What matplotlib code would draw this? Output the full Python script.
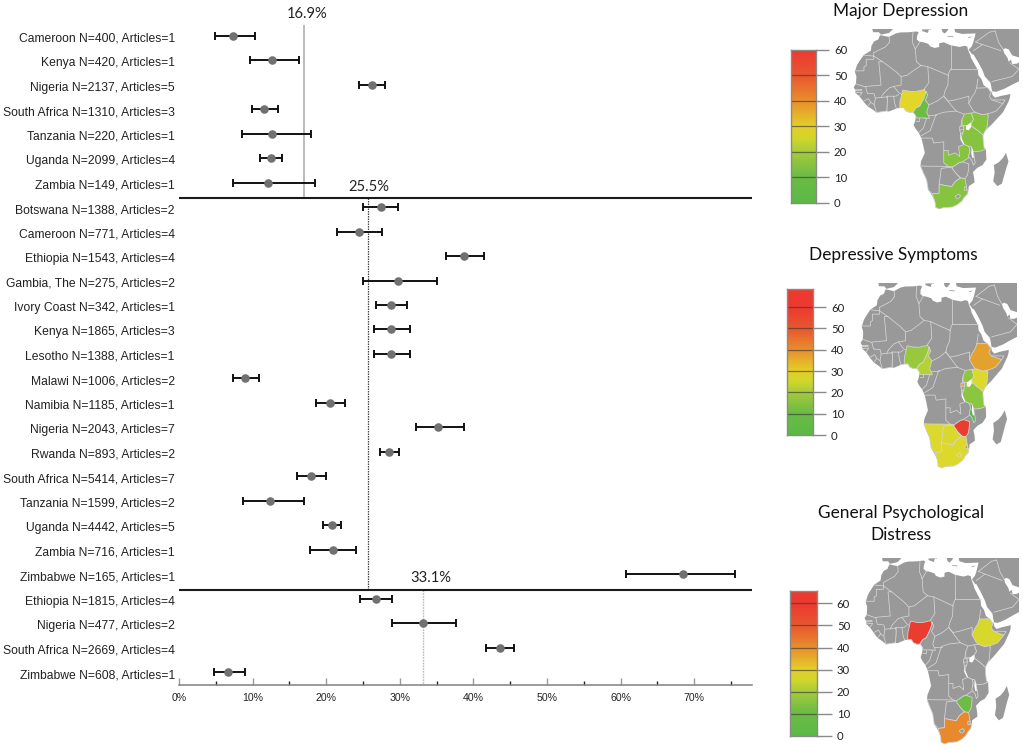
import matplotlib
matplotlib.use("Agg")
import matplotlib.pyplot as plt
from matplotlib.colors import LinearSegmentedColormap
from matplotlib.transforms import ScaledTranslation
import numpy as np

WIDTH, HEIGHT = 1023, 749
LABEL_FONT = "Liberation Sans"
TITLE_FONT = "Lato"

labels = [
    "Cameroon N=400, Articles=1", "Kenya N=420, Articles=1", "Nigeria N=2137, Articles=5",
    "South Africa N=1310, Articles=3", "Tanzania N=220, Articles=1", "Uganda N=2099, Articles=4",
    "Zambia N=149, Articles=1", "Botswana N=1388, Articles=2", "Cameroon N=771, Articles=4",
    "Ethiopia N=1543, Articles=4", "Gambia, The N=275, Articles=2", "Ivory Coast N=342, Articles=1",
    "Kenya N=1865, Articles=3", "Lesotho N=1388, Articles=1", "Malawi N=1006, Articles=2",
    "Namibia N=1185, Articles=1", "Nigeria N=2043, Articles=7", "Rwanda N=893, Articles=2",
    "South Africa N=5414, Articles=7", "Tanzania N=1599, Articles=2", "Uganda N=4442, Articles=5",
    "Zambia N=716, Articles=1", "Zimbabwe N=165, Articles=1", "Ethiopia N=1815, Articles=4",
    "Nigeria N=477, Articles=2", "South Africa N=2669, Articles=4", "Zimbabwe N=608, Articles=1",
]
means = [7.3, 12.6, 26.2, 11.6, 12.7, 12.5, 12.1, 27.4, 24.4, 38.7, 29.8, 28.8, 28.8, 28.8,
         9.0, 20.5, 35.2, 28.5, 17.9, 12.4, 20.8, 20.9, 68.5, 26.7, 33.2, 43.6, 6.6]
lows = [4.9, 9.6, 24.5, 9.9, 8.6, 11.0, 7.3, 25.0, 21.4, 36.3, 25.0, 26.8, 26.5, 26.5,
        7.3, 18.6, 32.2, 27.3, 16.0, 8.7, 19.6, 17.8, 60.7, 24.6, 28.9, 41.7, 4.8]
highs = [10.3, 16.3, 28.0, 13.5, 17.9, 14.0, 18.5, 29.8, 27.6, 41.4, 35.1, 31.0, 31.4, 31.4,
         10.9, 22.6, 38.7, 29.9, 20.0, 17.0, 22.0, 24.0, 75.5, 28.9, 37.6, 45.5, 8.9]

# land outlines, lon/lat
africa = [(-5.9, 35.8), (-2, 35.1), (1, 36.5), (3, 36.9), (7, 37), (10, 37.3), (11, 37), (10.3, 35.5),
          (10.2, 34), (11.2, 33.2), (13, 32.9), (15.2, 32.3), (16, 31.3), (18, 30.6), (20, 31), (20, 32.5),
          (22, 32.9), (25, 31.7), (29, 31), (31, 31.5), (32.3, 31.2), (32.6, 29.9), (33.5, 28), (34, 26.5),
          (35.5, 24), (37, 21.5), (37.2, 19.5), (38.5, 18), (39.5, 15.5), (41, 14.5), (43.2, 12.5),
          (43.3, 11.5), (44.5, 10.4), (47, 11.1), (51.2, 11.9), (51, 10.4), (50.5, 9), (48, 4.5), (46, 2.5),
          (43, -0.5), (41.5, -1.8), (40, -3.2), (39.2, -5), (39.3, -7), (39.7, -10), (40.5, -10.5),
          (40.7, -14.7), (39, -17), (36.8, -18), (34.8, -19.8), (35.3, -22), (35.5, -24), (33, -25.5),
          (32.8, -27), (32.4, -28.7), (31, -30), (30, -31.5), (28, -33), (25.7, -34), (22, -34.2), (20, -34.8),
          (18.4, -34.1), (18.2, -32), (17, -29.5), (15.2, -27), (14.5, -23), (13, -20), (11.8, -17.5),
          (12, -15.5), (13.7, -12), (13, -9), (12.2, -6), (11, -3.8), (9.5, -2), (8.8, -0.7), (9.5, 1),
          (9.8, 3), (8.9, 4.5), (7, 4.4), (5.4, 5), (4.4, 6.3), (1.5, 6.1), (-2, 4.8), (-4.5, 5.2), (-7.5, 4.4),
          (-9.2, 5.6), (-11.4, 6.9), (-13.2, 8.8), (-13.7, 9.5), (-15, 11), (-16.7, 12.3), (-16.8, 13.5),
          (-17.5, 14.7), (-16.5, 16), (-16.3, 19), (-17, 21), (-16, 23.7), (-14.8, 25.5), (-13, 27.8),
          (-10, 29.5), (-9.7, 31.5), (-8.5, 33.3), (-6.8, 34)]
middle_east = [(34.3, 31.3), (35, 33), (36, 36.5), (30, 36.3), (27, 37), (26.5, 39), (56, 39), (56, 26.5),
               (52, 27.6), (50.5, 30), (49, 30.5), (48, 30), (48.5, 28.5), (50, 26.5), (50.5, 25), (51.5, 25.9),
               (52, 24.1), (54, 24.2), (56, 25.2), (56, 17.5), (52, 15.7), (48.5, 14), (45, 12.8), (43.2, 13),
               (42.5, 16.5), (40, 19), (39, 21.5), (37, 25), (35, 28), (34.5, 28), (32.9, 29.9)]
madagascar = [(49.3, -12), (50.4, -15.5), (49.5, -18), (47.5, -24.5), (45.5, -25.5), (43.7, -23.5),
              (44.3, -20), (44, -17), (46.3, -15.7), (48, -14)]
spain = [(-9.5, 39), (-9, 37), (-6.5, 37), (-5.5, 36), (-2, 36.7), (-0.5, 38), (0, 39)]
sicily = [(12.5, 38.1), (15.5, 38.2), (15, 36.7), (12.5, 37.5)]
italy = [(15.7, 39), (15.8, 38), (16.2, 38), (17, 39)]
greece = [(20.8, 39), (21.5, 37), (22.5, 36.5), (24, 38), (23.5, 39)]
crete = [(23.6, 35.5), (26.3, 35.3), (26, 35), (23.6, 35.2)]
cyprus = [(32.4, 34.8), (34.3, 35.4), (33.5, 34.7)]
land_shapes = [africa, middle_east, madagascar, spain, sicily, italy, greece, crete, cyprus]

# countries with data
nigeria = [(2.7, 6.3), (2.8, 9), (3.6, 11.7), (4, 13.5), (7, 13), (9.5, 12.9), (13.6, 13.7), (14.2, 12.4),
           (13.2, 10), (11.5, 7), (9.8, 6.2), (8.5, 4.5), (7, 4.4), (5.4, 5), (4.4, 6.3)]
cameroon = [(8.5, 4.5), (9.8, 6.2), (11.5, 7), (13.2, 10), (14.2, 12.4), (14.2, 13), (15, 11.5), (13.9, 9.5),
            (15.5, 7.5), (14.5, 4.5), (15.8, 2), (13.2, 2.2), (9.8, 2.2), (9.8, 3)]
kenya = [(34, 4.2), (36, 4.4), (39, 3.5), (41, 4), (41.5, 3), (41, -1.7), (39.2, -4.7), (37.7, -3.5),
         (34, -1.05), (34, 0.3), (35, 1.5)]
uganda = [(30, -1), (30, 1.5), (31, 3.7), (34, 4.2), (35, 1.5), (34, 0.3), (34, -1), (30.5, -1)]
rwanda = [(29, -1.4), (30.5, -1.1), (30.8, -2.4), (29, -2.8)]
tanzania = [(30.5, -1), (34, -1), (37.7, -3.5), (39.2, -4.7), (39.3, -7), (39.7, -10), (40.5, -10.5),
            (38, -11.3), (35, -11.5), (34, -9.5), (33, -9.4), (31, -8.6), (29.5, -6), (30.5, -3.5), (30.8, -2.4)]
zambia = [(22, -11), (24, -11), (24, -13), (27, -12), (29, -13.5), (28.5, -9.5), (31, -8.6), (33, -9.4),
          (33.5, -11), (33, -14), (30.2, -15.6), (28.8, -16), (25.8, -17.8), (24, -17.5), (22, -16), (22, -13)]
malawi = [(33, -9.4), (34, -9.5), (35, -12), (35.8, -16), (35, -17), (34.3, -15), (32.8, -13.5), (33.5, -11)]
zimbabwe = [(25.8, -17.8), (28.8, -16), (30.4, -15.7), (33, -16.5), (32.8, -19), (32.4, -21), (31.3, -22.4),
            (29.5, -22.2), (27.5, -20.5), (25.7, -18.5)]
botswana = [(20, -18.3), (23.5, -17.8), (25.3, -17.8), (27.5, -20.5), (29.3, -22.2), (27, -23.7),
            (25.5, -25.7), (23, -25.3), (20, -24.8)]
namibia = [(11.8, -17.3), (14, -17.4), (24, -17.5), (25.3, -17.8), (23.5, -18), (20.9, -18.3), (20, -24.8),
           (20, -28.4), (17, -28.7), (15.2, -27), (14.5, -23), (13, -20)]
south_africa = [(17, -28.7), (20, -28.4), (20, -24.8), (23, -25.3), (25.5, -25.7), (27, -23.7), (29.3, -22.2),
                (31.3, -22.4), (32, -25.8), (32, -27), (32.8, -27), (32.4, -28.7), (31, -30), (30, -31.5),
                (28, -33), (25.7, -34), (22, -34.2), (20, -34.8), (18.4, -34.1), (18.2, -32)]
ethiopia = [(36.4, 14.4), (37.5, 14.3), (39.5, 14.4), (41.2, 14.5), (42.8, 12.5), (42, 11), (43, 9.5), (47.9, 8),
            (45, 5), (42, 4), (39, 3.5), (36, 4.4), (35, 5), (33, 8), (34.2, 10.5), (35.7, 12.5)]
gambia = [(-16.8, 13.6), (-14, 13.7), (-14, 13.3), (-16.8, 13.2)]
lesotho = [(27, -29.6), (28.6, -28.7), (29.4, -29.5), (28.5, -30.5), (27.4, -30.3)]
swaziland = [(31, -25.8), (32, -26), (32, -27.2), (31, -27.2)]
ivory_coast = [(-7.5, 4.4), (-3, 5), (-2.7, 9.5), (-3, 10.8), (-5.5, 10.4), (-6.3, 10.5), (-8, 10.2), (-8.5, 7.6)]
country_shapes = {
    "Nigeria": nigeria, "Cameroon": cameroon, "Kenya": kenya, "Uganda": uganda, "Rwanda": rwanda,
    "Tanzania": tanzania, "Zambia": zambia, "Malawi": malawi, "Zimbabwe": zimbabwe, "Botswana": botswana,
    "Namibia": namibia, "South Africa": south_africa, "Ethiopia": ethiopia, "Gambia": gambia,
    "Ivory Coast": ivory_coast, "Lesotho": lesotho, "Swaziland": swaziland,
}

other_borders = [
    [(-2, 35.1), (-1.7, 33), (-3.6, 31), (-8.7, 28.7)], [(-8.7, 28.7), (-8.7, 27.3), (-13, 27.7)],
    [(-8.7, 27.3), (-8.7, 26), (-12, 26), (-12, 23.4), (-13, 23), (-13, 21.3), (-17, 21.3)],
    [(-8.7, 27.3), (-4.8, 25), (-6.5, 25), (-5.5, 15.5), (-12, 15), (-12.3, 14.8), (-16.5, 16)],
    [(-4.8, 25), (1, 21), (3.3, 19), (4.2, 19.2), (5.8, 19.5), (12, 23.5)], [(8.5, 37), (8.2, 33), (9.5, 30.2)],
    [(9.5, 30.2), (10, 25), (12, 23.5)], [(9.5, 30.2), (11.5, 33)], [(12, 23.5), (15, 23), (24, 19.5)],
    [(25, 31.7), (25, 22)], [(25, 22), (37, 22)], [(25, 22), (24, 20), (24, 19.5)],
    [(24, 19.5), (23.8, 15.5), (22.5, 13), (22, 11)], [(15, 23), (15.5, 16.5), (13.5, 14), (13.6, 13.5)],
    [(3.3, 19), (3.3, 15.5), (0, 15), (-2, 14.3), (-4.5, 12), (-5.5, 10.4)], [(0, 15), (2.2, 12.5), (3.6, 11.7)],
    [(-3, 11), (1, 11), (2.2, 11.7)], [(1.2, 6.1), (0.5, 8), (0, 11)], [(-3, 5), (-2.7, 11)],
    [(-8, 10.2), (-8.5, 12), (-11.5, 12.2), (-12.3, 14.8)], [(-11.4, 6.9), (-10, 8.5), (-8.5, 7.6)],
    [(-13.2, 9), (-11, 10), (-10, 8.5)], [(-16.7, 12.4), (-13.7, 12.6), (-15, 11)],
    [(22, 11), (19, 9), (15.5, 7.5)], [(22, 11), (27.4, 5)], [(18.6, 3.5), (22, 4.5), (27.4, 5)],
    [(15, 3.5), (18.6, 3.5)], [(13.2, 2.2), (14.5, 2), (13, -2), (11, -3.8)],
    [(18.6, 3.5), (16, -3), (12.2, -5)], [(12.2, -6), (17, -6), (17.5, -8), (22, -7.5), (22, -11)],
    [(27.4, 5), (31, 3.7)], [(22, 11), (24, 9), (27, 9.5), (33, 11), (33, 8)], [(37, 18), (36.4, 14.4)],
    [(9.8, 1), (11.3, 1), (11.3, 2.2)], [(41.5, 3), (41, 4)], [(30, 1.5), (29.5, -1.4)],
    [(29, -2.8), (29.5, -4.5), (30.5, -3.5)], [(47.9, 8), (48.9, 9.5), (43, 9.5)],
    [(36, 33), (42, 37), (44.5, 37.5)], [(35, 29.5), (39, 32), (47, 29.5)], [(43.2, 17), (52, 19), (55, 22)],
    [(39, 32), (36, 33)], [(48, 30), (46, 33), (44.5, 37.5)], [(51, 24.5), (55, 22)],
]

lakes = [
    [(31.7, -1), (33.9, 0.3), (34, -1.5), (33, -2.8), (31.7, -2.5)],
    [(34.3, -9.5), (34.9, -12), (35.2, -14), (34.5, -14), (34, -12)],
    [(29.3, -3.5), (29.8, -6), (31, -8.5), (30.5, -8.5), (29.3, -6.5)],
]

# map fill per country
major_colors = {"Cameroon": "#6fbc45", "Kenya": "#86c33f", "Uganda": "#86c33f", "Tanzania": "#86c33f",
                "Zambia": "#86c33f", "South Africa": "#86c33f", "Nigeria": "#e2d628"}
symptom_colors = {"Nigeria": "#98c93c", "Cameroon": "#b5d235", "Ethiopia": "#e3a22d", "Kenya": "#dcd92e",
                  "Uganda": "#8fc63e", "Tanzania": "#8cc53f", "Rwanda": "#e8a02f", "Malawi": "#55b947",
                  "Zimbabwe": "#ea3d2f", "Botswana": "#d9d92c", "Namibia": "#dcd92c", "South Africa": "#dcd92c",
                  "Lesotho": "#dcd92c", "Gambia": "#dedc2e"}
distress_colors = {"Nigeria": "#ea3c2f", "Ethiopia": "#d7d72c", "Zimbabwe": "#6cbc45", "South Africa": "#e8892d"}

scale_stops = [0, 10, 20, 25, 30, 40, 50, 60]
scale_colors = ["#5cb947", "#6abb45", "#a6cb3b", "#cfd72b", "#e4cf29", "#e88f2d", "#e9572f", "#ec3a30"]
scale_ticks = [0, 10, 20, 30, 40, 50, 60]
bar_tops = [60, 68.5, 65.6]

LAND = "#999999"
BORDER = "#d6d6d6"


def pixel_axes(figure, left, top, right, bottom):
    return figure.add_axes([left / WIDTH, 1 - bottom / HEIGHT, (right - left) / WIDTH, (bottom - top) / HEIGHT])


def draw_map(figure, box, colors):
    axis = pixel_axes(figure, *box)
    axis.set_zorder(5)
    for shape in land_shapes:
        lons, lats = zip(*shape)
        axis.fill(lons, lats, color=LAND, linewidth=0, zorder=1)
    for border in other_borders:
        lons, lats = zip(*border)
        axis.plot(lons, lats, color=BORDER, linewidth=0.55, zorder=2)
    for name, shape in country_shapes.items():
        lons, lats = zip(*shape)
        axis.fill(lons, lats, facecolor=colors.get(name, LAND), edgecolor=BORDER, linewidth=0.55, zorder=3)
    for shape in lakes:
        lons, lats = zip(*shape)
        axis.fill(lons, lats, color="white", linewidth=0, zorder=4)
    axis.set_xlim(-17.8, 55)
    axis.set_ylim(-35.2, 38.3)
    axis.axis("off")


def draw_scale(figure, box, top_value, scale_map, tick_length):
    axis = pixel_axes(figure, *box)
    gradient = np.linspace(0, top_value, 256).reshape(-1, 1)
    axis.imshow(gradient, origin="lower", extent=(0, 1, 0, top_value), aspect="auto",
                cmap=scale_map, vmin=0, vmax=60)
    axis.hlines(scale_ticks[1:], 0, 1, color="#3a3a3a", linewidth=0.9, alpha=0.65)
    axis.set_xticks([])
    axis.set_yticks(scale_ticks)
    axis.yaxis.tick_right()
    axis.tick_params(axis="y", length=tick_length, width=1.0, color="#8a8a8a", pad=3.5,
                     labelsize=8.2, labelcolor="#222222")
    for tick in axis.get_yticklabels():
        tick.set_fontfamily(TITLE_FONT)
    for spine in axis.spines.values():
        spine.set_color("#8a8a8a")
        spine.set_linewidth(1.0)


def main():
    figure = plt.figure(figsize=(WIDTH / 100, HEIGHT / 100), dpi=100)

    axis = pixel_axes(figure, 179, 20, 752, 685)
    rows = np.arange(len(labels))
    means_arr = np.array(means)
    axis.errorbar(means_arr, rows, xerr=[means_arr - np.array(lows), np.array(highs) - means_arr], fmt="none",
                  ecolor="#111111", elinewidth=1.4, capsize=3.0, capthick=1.4, zorder=3)
    axis.scatter(means_arr, rows, s=38, color="#717171", zorder=4, linewidths=0)

    axis.set_xlim(0, 77.85)
    axis.set_ylim(26.52, -0.641)
    axis.hlines([6.63, 22.64], 0, 77.85, color="#1a1a1a", linewidth=1.5, zorder=2)
    axis.vlines(17.05, -0.45, 6.63, color="#a8a8a8", linewidth=1.1, zorder=1)
    axis.vlines(25.68, 6.63, 22.64, color="#444444", linewidth=0.9, linestyle=(0, (1.2, 0.8)), zorder=1)
    axis.vlines(33.2, 22.64, 26.52, color="#bbbbbb", linewidth=1.0, linestyle=(0, (1.2, 0.8)), zorder=1)
    for x_pos, row, text in [(17.4, -0.89, "16.9%"), (25.8, 6.18, "25.5%"), (34.15, 22.15, "33.1%")]:
        axis.text(x_pos, row, text, ha="center", va="center", fontsize=10.6, color="#222222",
                  family=TITLE_FONT)

    for side in ("top", "left", "right"):
        axis.spines[side].set_visible(False)
    axis.spines["bottom"].set_color("#808080")
    axis.spines["bottom"].set_linewidth(1.1)
    axis.set_yticks(rows)
    axis.set_yticklabels(labels, fontsize=8.75, family=LABEL_FONT, color="#222222")
    axis.tick_params(axis="y", length=0, pad=3)
    label_shift = ScaledTranslation(0, -1.5 / 100, figure.dpi_scale_trans)
    for tick in axis.get_yticklabels():
        tick.set_transform(tick.get_transform() + label_shift)
    axis.set_xticks(np.arange(0, 80, 10))
    axis.set_xticks(np.arange(5, 80, 10), minor=True)
    axis.set_xticklabels([f"{tick}%" for tick in range(0, 80, 10)], fontsize=7.6, family=LABEL_FONT,
                         color="#222222")
    axis.tick_params(axis="x", which="major", direction="in", length=5, width=1.0, color="#999999", pad=5.7)
    axis.tick_params(axis="x", which="minor", direction="in", length=2.8, width=1.0, color="#222222")

    scale_map = LinearSegmentedColormap.from_list(
        "prevalence", [(stop / 60, color) for stop, color in zip(scale_stops, scale_colors)])

    draw_scale(figure, (791, 50, 816, 203), bar_tops[0], scale_map, 9.4)
    draw_scale(figure, (787, 289, 813, 435), bar_tops[1], scale_map, 9.4)
    draw_scale(figure, (790, 591, 817, 736), bar_tops[2], scale_map, 10.8)

    draw_map(figure, (853, 29, 1019, 210), major_colors)
    draw_map(figure, (860, 283, 1017, 469), symptom_colors)
    draw_map(figure, (864, 558, 1019, 745), distress_colors)

    for x_pos, y_pos, title in [(901, 11, "Major Depression"), (893, 255, "Depressive Symptoms"),
                                (901, 513, "General Psychological"), (901, 535, "Distress")]:
        figure.text(x_pos / WIDTH, 1 - y_pos / HEIGHT, title, ha="center", va="center", fontsize=12.4,
                    family=TITLE_FONT, color="#111111")

    figure.savefig("out.png", dpi=100)


if __name__ == "__main__":
    main()
